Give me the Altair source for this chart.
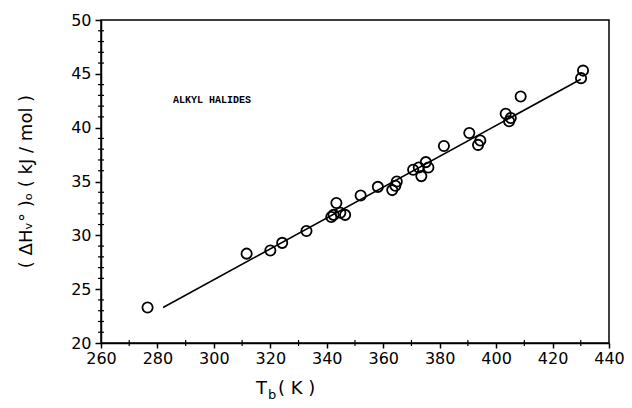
import altair as alt
import pandas as pd

# Data
tb = [276.5, 311.6, 320.0, 324.2, 332.8, 341.6, 342.4, 343.4, 344.8, 346.5,
      352.0, 358.1, 363.2, 364.3, 364.8, 370.6, 372.6, 373.5, 375.1, 376.0,
      381.5, 390.5, 393.6, 394.4, 403.4, 404.6, 405.2, 408.7, 430.1, 430.8]
dh = [23.3, 28.3, 28.6, 29.3, 30.4, 31.7, 31.9, 33.0, 32.1, 31.9,
      33.7, 34.5, 34.2, 34.6, 35.0, 36.1, 36.3, 35.5, 36.8, 36.3,
      38.3, 39.5, 38.4, 38.8, 41.3, 40.6, 40.9, 42.9, 44.6, 45.3]
fit_t = [282.0, 430.0]
fit_h = [23.3, 44.5]

x_major = [260, 280, 300, 320, 340, 360, 380, 400, 420, 440]
x_minor = [270, 290, 310, 330, 350, 370, 390, 410, 430]
y_major = [20, 25, 30, 35, 40, 45, 50]
y_minor = [21, 22, 23, 24, 26, 27, 28, 29, 31, 32, 33, 34, 36, 37, 38, 39,
           41, 42, 43, 44, 46, 47, 48, 49]

pts = pd.DataFrame({"T": tb, "H": dh})
fit = pd.DataFrame({"T": fit_t, "H": fit_h})
xmin_df = pd.DataFrame({"T": x_minor})
ymin_df = pd.DataFrame({"H": y_minor})

FONT = "DejaVu Sans"
xs = alt.Scale(domain=[260, 440], nice=False, zero=False)
ys = alt.Scale(domain=[20, 50], nice=False, zero=False)

x_axis = alt.Axis(values=x_major, orient="bottom", title=None, grid=False,
                  tickSize=5, tickWidth=1.5, tickColor="black",
                  domainColor="black", domainWidth=1.5, labelOverlap=False,
                  labelFont=FONT, labelFontSize=16, labelColor="black",
                  labelPadding=2, labelFlush=False)
y_axis = alt.Axis(values=y_major, orient="left", grid=False,
                  title="( ΔHᵥ° )ₒ ( kJ / mol )", titleFont=FONT, titleFontSize=18,
                  titleFontWeight="normal", titleColor="black",
                  titleX=-66, titleY=161, titleAngle=270,
                  tickSize=6, tickWidth=1.5, tickColor="black",
                  domainColor="black", domainWidth=1.5, labelOverlap=False,
                  labelFont=FONT, labelFontSize=16, labelColor="black",
                  labelPadding=4, labelFlush=False)

points = alt.Chart(pts).mark_point(
    shape="circle", filled=False, color="black", size=105, strokeWidth=1.8,
    opacity=1
).encode(
    x=alt.X("T:Q", scale=xs, axis=x_axis),
    y=alt.Y("H:Q", scale=ys, axis=y_axis),
)

line = alt.Chart(fit).mark_line(color="black", strokeWidth=1.6).encode(
    x=alt.X("T:Q", scale=xs, title=None),
    y=alt.Y("H:Q", scale=ys, title="( ΔHᵥ° )ₒ ( kJ / mol )"),
)

x_minor_ticks = alt.Chart(xmin_df).mark_rule(color="black", strokeWidth=1.2).encode(
    x=alt.X("T:Q", scale=xs, title=None),
    y=alt.value(320), y2=alt.value(326),
)
y_minor_ticks = alt.Chart(ymin_df).mark_rule(color="black", strokeWidth=1.2).encode(
    y=alt.Y("H:Q", scale=ys, title="( ΔHᵥ° )ₒ ( kJ / mol )"),
    x=alt.value(-3), x2=alt.value(3),
)

one = alt.Data(values=[{}])
label = alt.Chart(one).mark_text(
    text="ALKYL HALIDES", font="Liberation Mono", fontWeight="bold",
    fontSize=10, align="left", baseline="middle", color="black"
).encode(x=alt.value(72), y=alt.value(80))

t_main = alt.Chart(one).mark_text(
    text="T", font=FONT, fontSize=18, align="left", baseline="middle", color="black"
).encode(x=alt.value(155), y=alt.value(369))
t_sub = alt.Chart(one).mark_text(
    text="b", font=FONT, fontSize=13, align="left", baseline="middle", color="black"
).encode(x=alt.value(167), y=alt.value(375))
t_unit = alt.Chart(one).mark_text(
    text="( K )", font=FONT, fontSize=18, align="left", baseline="middle", color="black"
).encode(x=alt.value(177), y=alt.value(369))

chart = alt.layer(points, line, x_minor_ticks, y_minor_ticks,
                  label, t_main, t_sub, t_unit).properties(
    width=508, height=323,
    autosize=alt.AutoSizeParams(type="none"),
    padding={"left": 101, "top": 20, "right": 23, "bottom": 65},
    background="white",
).configure_view(stroke="black", strokeWidth=1.5)

chart.save("out.html", embed_options={"renderer": "svg", "actions": False})
